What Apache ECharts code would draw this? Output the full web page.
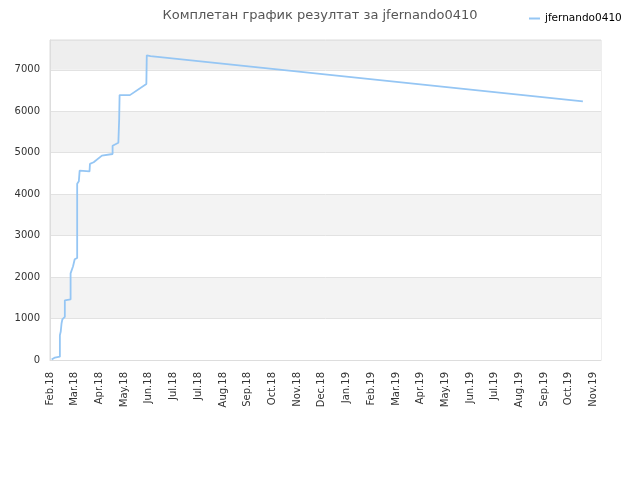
<!DOCTYPE html>
<html>
<head>
<meta charset="utf-8">
<script src="https://cdn.jsdelivr.net/npm/echarts@6/dist/echarts.min.js"></script>
<style>html,body{margin:0;padding:0;background:#fff}#c{width:640px;height:480px}</style>
</head>
<body>
<div id="c"></div>
<script>
var titleText = 'Комплетан график резултат за jfernando0410';
var seriesName = 'jfernando0410';
// x tick labels, one every 30 days starting 1 Feb 2018
var tickLabels = ['Feb.18','Mar.18','Apr.18','May.18','Jun.18','Jul.18','Jul.18','Aug.18','Sep.18','Oct.18','Nov.18','Dec.18','Jan.19','Feb.19','Mar.19','Apr.19','May.19','Jun.19','Jul.19','Aug.19','Sep.19','Oct.19','Nov.19'];
// day index since 1 Feb 2018
var days = [2, 6, 12, 12, 13, 14, 15, 18, 18, 25, 25, 28, 30, 33, 33, 35, 36, 48, 48.5, 53, 63, 76, 76, 83, 84, 84.5, 97, 117, 117.5, 122, 647];
var scores = [10, 60, 80, 600, 680, 880, 980, 1040, 1440, 1460, 2090, 2260, 2430, 2460, 4250, 4310, 4570, 4550, 4730, 4770, 4930, 4970, 5170, 5240, 5820, 6390, 6390, 6660, 7350, 7330, 6240];
var yTicks = [0, 1000, 2000, 3000, 4000, 5000, 6000, 7000];

var data = days.map(function (d, i) { return [d, scores[i]]; });
var chart = echarts.init(document.getElementById('c'));
var font = 'DejaVu Sans';
chart.setOption({
  animation: false,
  backgroundColor: '#fff',
  title: {
    text: titleText, left: 'center', top: 4,
    textStyle: { fontFamily: font, fontSize: 13, fontWeight: 'normal', color: '#555' }
  },
  legend: {
    left: 524, top: 8, icon: 'rect', itemWidth: 11, itemHeight: 2, itemGap: 4,
    textStyle: { fontFamily: font, fontSize: 10.5, color: '#000', padding: [0, 0, 0, 0] },
    data: [seriesName]
  },
  grid: { left: 50, right: 39, top: 40, bottom: 120, show: true, borderColor: '#dddddd', borderWidth: 1 },
  xAxis: {
    type: 'value', min: 0, max: 669, interval: 30,
    axisLine: { show: true, lineStyle: { color: '#dddddd' } },
    axisTick: { show: false },
    splitLine: { show: false },
    axisLabel: {
      rotate: 90, margin: 12, fontFamily: font, fontSize: 10, color: '#333',
      showMaxLabel: false,
      formatter: function (v) { var i = Math.round(v / 30); return (Math.abs(v - i * 30) < 0.01 && tickLabels[i]) ? tickLabels[i] : ''; }
    }
  },
  yAxis: {
    type: 'value', min: 0, max: 7720, interval: 1000,
    axisLine: { show: true, lineStyle: { color: '#dddddd' } },
    axisTick: { show: false },
    splitLine: { show: true, lineStyle: { color: '#e2e2e2' } },
    splitArea: { show: true, areaStyle: { color: ['#ffffff', '#f3f3f3', '#ffffff', '#f3f3f3', '#ffffff', '#f3f3f3', '#ffffff', '#eeeeee'] } },
    axisLabel: {
      margin: 10, fontFamily: font, fontSize: 10, color: '#333', showMaxLabel: false,
      formatter: function (v) { return yTicks.indexOf(v) >= 0 ? String(v) : ''; }
    }
  },
  series: [{
    name: seriesName, type: 'line', data: data, symbol: 'none',
    lineStyle: { color: '#95c6f4', width: 1.8 }, itemStyle: { color: '#95c6f4' }
  }]
});
</script>
</body>
</html>
